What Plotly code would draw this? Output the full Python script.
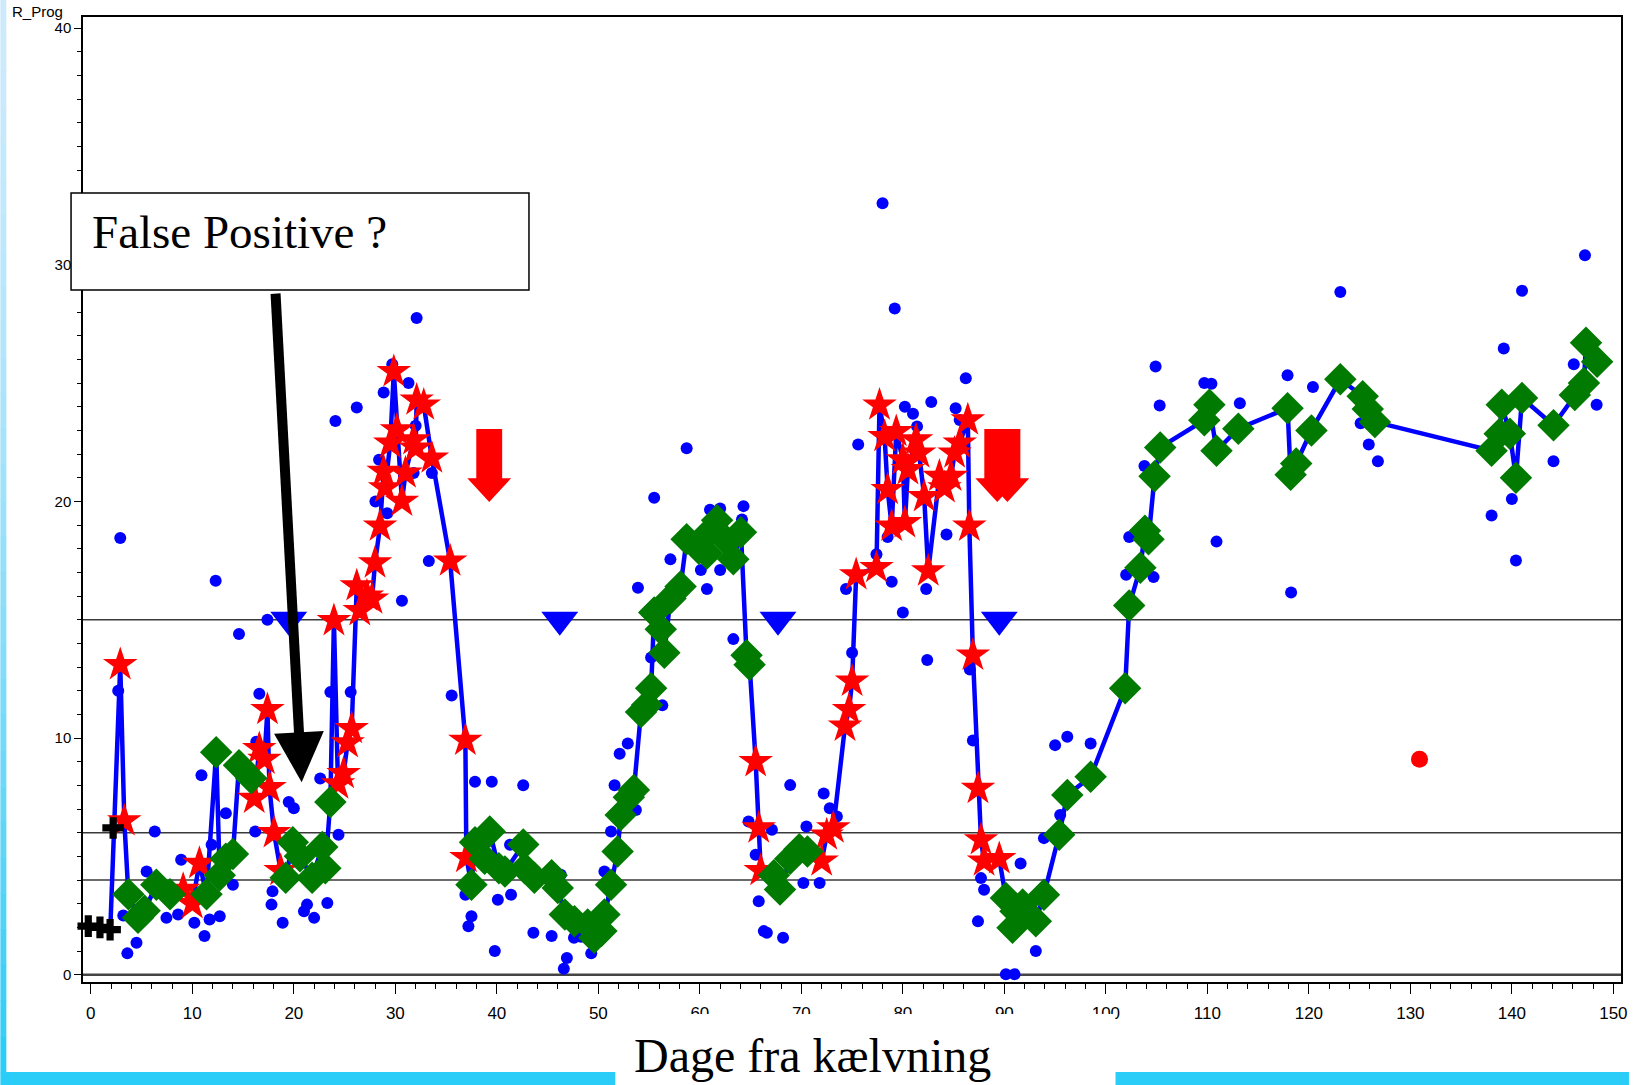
import math
import plotly.graph_objects as go

# ---------------------------------------------------------------- data
# individual progesterone readings (day after calving, value)
raw_days = [2.7, 2.9, 3.2, 3.6, 4.5, 5.5, 6.3, 7.45, 8.6, 8.9, 10.2, 10.9, 11.2, 11.7, 11.9,
            12.3, 12.7, 13.3, 14.0, 14.6, 16.2, 16.3, 16.6, 17.4, 17.8, 17.9, 18.9, 19.5, 20.0,
            21.0, 21.3, 22.0, 22.6, 23.3, 23.6, 24.1, 24.4, 25.6, 26.2, 28.04, 28.4, 28.85,
            29.2, 29.7, 29.9, 30.65, 31.3, 31.8, 32.0, 32.1, 33.3, 33.6, 35.55, 36.9, 37.2,
            37.5, 37.85, 39.5, 39.8, 40.1, 41.3, 41.4, 42.6, 43.6, 45.4, 46.3, 46.6, 46.9,
            47.6, 48.3, 49.3, 49.7, 50.6, 51.25, 51.6, 52.1, 52.9, 53.7, 53.9, 55.2, 55.5,
            56.3, 57.1, 58.7, 60.1, 60.7, 61.0, 62.0, 62.0, 63.3, 64.15, 64.3, 64.8, 65.5,
            65.8, 66.3, 66.6, 67.1, 68.2, 68.9, 70.2, 70.5, 71.8, 72.2, 72.8, 73.5, 74.4,
            75.0, 75.6, 77.4, 78.0, 78.5, 78.9, 79.2, 80.0, 80.2, 81.0, 81.4, 82.3, 82.4,
            82.8, 84.3, 85.2, 85.6, 86.2, 86.6, 86.9, 87.4, 87.7, 88.0, 90.15, 91.0, 91.6,
            93.1, 93.9, 95.0, 95.5, 96.2, 98.5, 102.0, 102.3, 103.8, 104.7, 104.9, 105.3,
            109.7, 110.4, 110.9, 113.2, 117.9, 118.25, 120.4, 123.1, 125.1, 125.9, 126.8,
            138.0, 139.2, 140.0, 140.4, 141.0, 144.1, 146.1, 147.2, 148.35]
raw_vals = [12.0, 18.45, 2.5, 0.9, 1.35, 4.36, 6.05, 2.4, 2.54, 4.86, 2.19, 8.43, 1.63, 2.33, 5.49,
            16.65, 2.47, 6.82, 3.8, 14.4, 6.05, 9.84, 11.87, 15.0, 2.96, 3.52, 2.19, 7.3, 7.03,
            2.68, 2.96, 2.4, 8.29, 3.03, 11.94, 23.4, 5.91, 11.94, 23.97, 20.0, 21.76, 24.6,
            19.5, 25.8, 29.5, 15.8, 25.0, 21.2, 23.2, 27.75, 17.48, 21.2, 11.8, 3.38, 2.05,
            2.47, 8.15, 8.15, 1.0, 3.17, 5.49, 3.38, 8.0, 1.77, 1.63, 4.22, 0.25, 0.7,
            1.56, 1.6, 0.9, 2.0, 4.36, 6.05, 8.0, 9.34, 9.77, 6.96, 16.35, 13.4, 20.15,
            11.38, 17.55, 22.25, 17.1, 16.3, 19.65, 19.7, 17.1, 14.18, 19.23, 19.8, 6.47, 5.07,
            3.1, 1.84, 1.77, 6.12, 1.56, 8.01, 3.87, 6.26, 3.87, 7.66, 7.03, 6.68, 16.3,
            13.6, 22.4, 17.77, 32.6, 18.5, 16.6, 28.15, 15.3, 24.0, 23.7, 23.17, 16.3, 13.3,
            24.2, 18.6, 23.94, 23.44, 25.2, 12.9, 9.9, 2.26, 4.08, 3.59, 0.02, 0.02, 4.7,
            1.0, 5.77, 9.7, 6.75, 10.05, 9.77, 16.9, 18.5, 21.5, 16.8, 25.7, 24.05,
            25.0, 24.97, 18.3, 24.15, 25.33, 16.15, 24.83, 28.85, 23.3, 22.4, 21.7,
            19.4, 26.46, 20.1, 17.5, 28.9, 21.7, 25.8, 30.4, 24.08]

# profile curve: day, value and state code (S = high / luteal, D = low, "" = none)
curve_days = [1.9, 2.9, 3.3, 3.7, 4.65, 5.3, 6.45, 7.8, 9.1, 10.0, 10.7, 11.4, 12.35, 12.7, 13.3,
              14.0, 14.6, 15.8, 16.1, 16.6, 17.1, 17.4, 17.6, 18.05, 18.7, 19.2, 19.9, 20.6, 21.8,
              22.8, 23.1, 23.6, 23.95, 24.35, 24.9, 25.3, 25.7, 26.2, 26.5, 27.2, 27.7, 28.0,
              28.5, 28.85, 29.0, 29.5, 29.85, 30.16, 30.65, 31.0, 31.8, 32.0, 32.1, 32.8, 33.6,
              35.4, 36.9, 37.0, 37.5, 37.85, 38.8, 39.3, 40.2, 40.8, 42.6, 42.75, 43.7, 45.4,
              46.0, 46.7, 47.65, 48.95, 49.6, 50.3, 50.6, 51.25, 51.9, 52.2, 53.0, 53.5, 54.2,
              54.8, 55.2, 55.5, 56.15, 56.5, 57.1, 58.1, 58.7, 59.9, 60.7, 60.9, 61.7, 62.7,
              63.3, 64.05, 64.6, 64.9, 65.5, 65.8, 66.0, 67.3, 67.9, 68.9, 69.8, 70.6, 72.0,
              72.5, 73.15, 74.3, 74.7, 75.0, 75.4, 77.4, 77.7, 78.2, 78.5, 78.9, 79.35, 80.0,
              80.2, 80.5, 81.3, 81.6, 82.1, 82.5, 83.6, 84.1, 84.75, 85.1, 85.6, 86.4, 86.55,
              86.9, 87.4, 87.7, 88.0, 89.5, 90.15, 90.8, 91.1, 91.8, 93.1, 93.9, 95.4, 96.2,
              98.5, 101.9, 102.3, 103.4, 103.85, 104.2, 104.8, 105.35, 109.7, 110.2, 110.9,
              113.05, 117.9, 118.2, 118.75, 120.25, 123.1, 125.3, 125.8, 126.5, 138.0, 138.8,
              139.0, 139.8, 140.4, 141.0, 144.1, 146.2, 147.1, 147.3, 148.4]
curve_vals = [1.7, 13.1, 6.5, 3.4, 2.4, 2.7, 3.8, 3.4, 3.6, 3.0, 4.7, 3.4, 9.4, 4.2, 4.9,
              5.1, 8.85, 8.3, 7.45, 9.55, 9.1, 11.2, 7.9, 6.0, 4.4, 4.1, 5.6, 5.0, 4.1,
              5.4, 4.5, 7.3, 14.96, 8.06, 8.5, 9.8, 10.4, 16.43, 15.38, 16.0, 15.87, 17.4,
              18.96, 21.27, 20.57, 22.46, 25.48, 23.02, 20.0, 21.2, 22.6, 22.25, 24.28, 24.07, 21.83,
              17.48, 9.9, 4.95, 3.8, 5.6, 4.9, 6.05, 4.5, 4.36, 5.5, 4.5, 4.1, 4.2,
              3.66, 2.54, 2.26, 2.12, 1.56, 1.84, 2.54, 3.8, 5.2, 6.75, 7.5, 7.8, 11.1,
              11.4, 12.1, 15.3, 14.6, 13.6, 15.9, 16.4, 18.4, 18.0, 17.8, 18.7, 19.2, 18.3,
              17.55, 18.7, 13.5, 13.1, 9.0, 6.2, 4.4, 4.2, 3.6, 4.9, 5.3, 5.2, 4.8,
              5.9, 6.2, 10.5, 11.2, 12.4, 16.9, 17.2, 24.07, 22.74, 20.5, 18.95, 22.95, 21.76,
              19.1, 21.34, 22.6, 22.04, 20.2, 17.06, 21.06, 20.57, 21.06, 22.04, 22.46, 23.44, 18.95,
              13.5, 7.87, 5.7, 4.8, 4.9, 3.24, 1.98, 2.68, 2.96, 2.26, 3.38, 5.91, 7.59,
              8.36, 12.1, 15.6, 17.2, 18.76, 18.4, 21.06, 22.28, 23.43, 24.08, 22.14,
              23.07, 23.94, 21.13, 21.6, 23.0, 25.16, 24.44, 23.9, 23.36, 22.14, 22.86,
              24.08, 22.86, 21.0, 24.37, 23.22, 24.5, 25.0, 26.7, 25.9]
# run lengths of the state along the curve
state_runs = [("", 1), ("S", 2), ("D", 5), ("S", 3), ("D", 7), ("S", 7), ("D", 7),
              ("S", 26), ("D", 40), ("S", 3), ("D", 5), ("S", 32), ("D", 39)]
curve_state = [s for s, n in state_runs for _ in range(n)]

# other event markers
cross_days = [-0.25, 0.9, 1.9, 2.2]
cross_vals = [2.05, 2.0, 1.9, 6.2]
insem_days = [19.5, 46.2, 67.7, 89.5]
insem_level = 15
odd_days = [130.9]
odd_vals = [9.1]
drop_days = [39.25, 89.3, 90.3]
drop_top, drop_neck, drop_tip = 23.06, 20.98, 19.97
pointer_from = (18.2, 28.78)
pointer_to = (20.77, 8.13)
limit_levels = [15, 6, 4]
x_ticks = list(range(0, 151, 10))
y_ticks = [0, 10, 20, 30, 40]

# ---------------------------------------------------------------- geometry
W, H = 1636, 1085
ML, MR, MT, MB = 83, 8, 17, 103
XR = [-0.77, 150.75]
YR = [-0.31, 40.47]
plot_w = W - ML - MR
plot_h = H - MT - MB
ppd = plot_w / (XR[1] - XR[0])      # pixels per day
ppu = plot_h / (YR[1] - YR[0])      # pixels per unit


def px_x(px):
    return (px - ML) / plot_w


def px_y(py):
    return 1 - (py - MT) / plot_h


BLUE = "#0000FF"
RED = "#FF0000"
GREEN = "#007A00"
CYAN = "#2ACCF8"

fig = go.Figure()

# raw readings
fig.add_trace(go.Scatter(x=raw_days, y=raw_vals, mode="markers",
                         marker=dict(color=BLUE, size=12, line=dict(width=0)),
                         showlegend=False, hoverinfo="skip"))
# profile line
fig.add_trace(go.Scatter(x=curve_days, y=curve_vals, mode="lines",
                         line=dict(color=BLUE, width=4.5), showlegend=False, hoverinfo="skip"))
# luteal (high) points
hx = [d for d, s in zip(curve_days, curve_state) if s == "S"]
hy = [v for v, s in zip(curve_vals, curve_state) if s == "S"]
fig.add_trace(go.Scatter(x=hx, y=hy, mode="markers",
                         marker=dict(symbol="star", color=RED, size=26, line=dict(width=0)),
                         showlegend=False, hoverinfo="skip"))
# low points
lx = [d for d, s in zip(curve_days, curve_state) if s == "D"]
ly = [v for v, s in zip(curve_vals, curve_state) if s == "D"]
fig.add_trace(go.Scatter(x=lx, y=ly, mode="markers",
                         marker=dict(symbol="diamond", color=GREEN, size=25, line=dict(width=0)),
                         showlegend=False, hoverinfo="skip"))
# crosses near calving
fig.add_trace(go.Scatter(x=cross_days, y=cross_vals, mode="markers", cliponaxis=False,
                         marker=dict(symbol="cross", color="black", size=18, line=dict(width=0)),
                         showlegend=False, hoverinfo="skip"))
# inseminations
fig.add_trace(go.Scatter(x=insem_days, y=[insem_level] * len(insem_days), mode="markers",
                         marker=dict(symbol="triangle-down", color=BLUE, size=32, line=dict(width=0)),
                         showlegend=False, hoverinfo="skip"))
# single red reading
fig.add_trace(go.Scatter(x=odd_days, y=odd_vals, mode="markers",
                         marker=dict(color=RED, size=17, line=dict(width=0)),
                         showlegend=False, hoverinfo="skip"))

shapes = []
# limit lines and zero line
for lv in limit_levels:
    shapes.append(dict(type="line", xref="paper", x0=0, x1=1, yref="y", y0=lv, y1=lv,
                       line=dict(color="#3a3a3a", width=1.5), layer="below"))
shapes.append(dict(type="line", xref="paper", x0=0, x1=1, yref="y", y0=0, y1=0,
                   line=dict(color="#444444", width=2.5), layer="below"))

# red block arrows
sh = 13 / ppd
hh = 22 / ppd
for c in drop_days:
    path = (f"M{c - sh},{drop_top} L{c + sh},{drop_top} L{c + sh},{drop_neck} "
            f"L{c + hh},{drop_neck} L{c},{drop_tip} L{c - hh},{drop_neck} "
            f"L{c - sh},{drop_neck} Z")
    shapes.append(dict(type="path", xref="x", yref="y", path=path,
                       fillcolor=RED, line=dict(width=0), layer="above"))

# black pointer from the note box
ux = (pointer_to[0] - pointer_from[0]) * ppd
uy = (pointer_to[1] - pointer_from[1]) * ppu
L = math.hypot(ux, uy)
dx, dy = ux / L, uy / L
head_len, head_half = 50, 25
bx = pointer_to[0] - head_len * dx / ppd
by = pointer_to[1] - head_len * dy / ppu
px_, py_ = -dy, dx
c1 = (bx + head_half * px_ / ppd, by + head_half * py_ / ppu)
c2 = (bx - head_half * px_ / ppd, by - head_half * py_ / ppu)
shapes.append(dict(type="line", xref="x", yref="y", x0=pointer_from[0], y0=pointer_from[1],
                   x1=bx + 2 * dx / ppd, y1=by + 2 * dy / ppu,
                   line=dict(color="black", width=10), layer="above"))
shapes.append(dict(type="path", xref="x", yref="y",
                   path=f"M{c1[0]},{c1[1]} L{pointer_to[0]},{pointer_to[1]} L{c2[0]},{c2[1]} Z",
                   fillcolor="black", line=dict(width=0), layer="above"))

# note box
shapes.append(dict(type="rect", xref="paper", yref="paper",
                   x0=px_x(71), x1=px_x(531), y0=px_y(290), y1=px_y(193),
                   fillcolor="white", line=dict(color="black", width=1.5), layer="above"))

# page decoration: cyan bars and left edge strip
shapes.append(dict(type="rect", xref="paper", yref="paper",
                   x0=px_x(0), x1=px_x(618), y0=px_y(1085), y1=px_y(1072),
                   fillcolor=CYAN, line=dict(width=0), layer="above"))
shapes.append(dict(type="rect", xref="paper", yref="paper",
                   x0=px_x(1120), x1=px_x(1636), y0=px_y(1085), y1=px_y(1072),
                   fillcolor=CYAN, line=dict(width=0), layer="above"))
# white panel behind the axis title
shapes.append(dict(type="rect", xref="paper", yref="paper",
                   x0=px_x(618), x1=px_x(1120), y0=px_y(1085), y1=px_y(1014),
                   fillcolor="white", line=dict(width=0), layer="above"))
n_seg = 30
top_rgb = (205, 234, 252)
bot_rgb = (42, 204, 248)
for i in range(n_seg):
    t = (i + 0.5) / n_seg
    t = t ** 1.6
    col = tuple(int(round(a + (b - a) * t)) for a, b in zip(top_rgb, bot_rgb))
    y_top = 1072 * i / n_seg
    y_bot = 1072 * (i + 1) / n_seg
    shapes.append(dict(type="rect", xref="paper", yref="paper",
                       x0=px_x(0), x1=px_x(6), y0=px_y(y_bot + 0.5), y1=px_y(y_top),
                       fillcolor="rgb(%d,%d,%d)" % col, line=dict(width=0), layer="above"))

annotations = [
    dict(text="False Positive ?", xref="paper", yref="paper", x=px_x(90), y=px_y(232),
         xanchor="left", yanchor="middle", showarrow=False,
         font=dict(family="Liberation Serif", size=47, color="black")),
    dict(text="Dage fra kælvning", xref="paper", yref="paper", x=px_x(816), y=px_y(1055),
         xanchor="center", yanchor="middle", showarrow=False,
         font=dict(family="Liberation Serif", size=48, color="black")),
    dict(text="R_Prog", xref="paper", yref="paper", x=px_x(10), y=px_y(12),
         xanchor="left", yanchor="middle", showarrow=False,
         font=dict(family="Liberation Sans", size=15, color="black")),
]

fig.update_layout(
    width=W, height=H,
    margin=dict(l=ML, r=MR, t=MT, b=MB, pad=0),
    paper_bgcolor="white", plot_bgcolor="white",
    font=dict(family="Liberation Sans", color="black"),
    shapes=shapes, annotations=annotations, showlegend=False,
    xaxis=dict(range=XR, tickvals=x_ticks, ticktext=[str(t) for t in x_ticks],
               showgrid=False, zeroline=False, showline=True, mirror=True,
               linecolor="black", linewidth=1.5, ticks="outside", ticklen=10,
               tickwidth=1.2, tickcolor="black", ticklabelstandoff=5,
               tickfont=dict(family="Liberation Sans", size=17, color="black"),
               minor=dict(dtick=2, tick0=0, ticks="outside", ticklen=5,
                          tickwidth=1, tickcolor="black")),
    yaxis=dict(range=YR, tickvals=y_ticks, ticktext=[str(t) for t in y_ticks],
               showgrid=False, zeroline=False, showline=True, mirror=True,
               linecolor="black", linewidth=1.5, ticks="outside", ticklen=7,
               tickwidth=1.2, tickcolor="black",
               tickfont=dict(family="Liberation Sans", size=15, color="black"),
               minor=dict(dtick=1, tick0=0, ticks="outside", ticklen=4,
                          tickwidth=1, tickcolor="black")),
)

fig.write_html("out.html")
